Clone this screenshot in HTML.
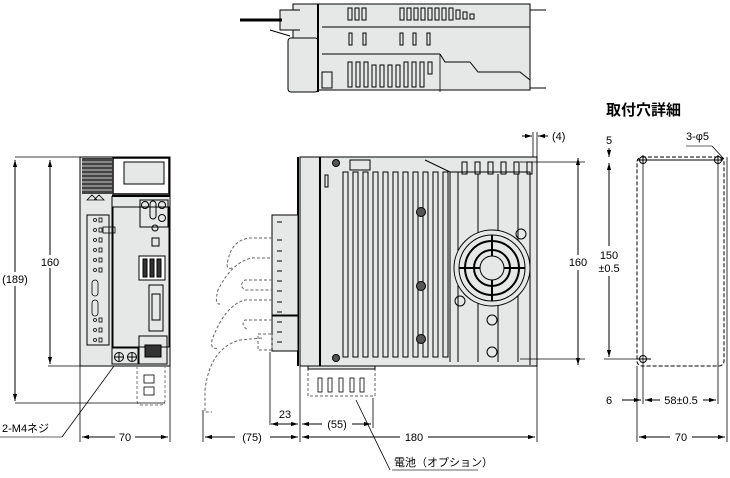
<!DOCTYPE html>
<html><head><meta charset="utf-8"><style>
html,body{margin:0;padding:0;background:#fff;}
svg{display:block;font-family:"Liberation Sans","Noto Sans CJK JP",sans-serif;}
</style></head><body>
<svg width="730" height="478" viewBox="0 0 730 478" xmlns="http://www.w3.org/2000/svg">
<defs>
<marker id="a" viewBox="0 0 10 10" refX="10" refY="5" markerWidth="7" markerHeight="7" orient="auto-start-reverse"><path d="M0,2 L10,5 L0,8 z" fill="#000"/></marker>
</defs>
<g stroke="#000" fill="none" stroke-width="1">
<!-- TOP VIEW -->
<rect x="293" y="4" width="237" height="86" fill="#e6e8e8"/>
<rect x="288" y="38" width="30" height="54" fill="#e6e8e8" rx="3"/>
<line x1="318" y1="4" x2="318" y2="92" stroke-width="2"/>
<line x1="322" y1="27" x2="530" y2="27"/>
<line x1="322" y1="54" x2="440" y2="54"/>
<path d="M440,54 L445,62 L470,62 L478,72 L520,72 L530,80" />
<path d="M300,10 L280,10 L280,30 L300,30" fill="#e6e8e8"/>
<line x1="240" y1="20" x2="282" y2="20" stroke-width="3"/>
<path d="M270,30 L290,36" />
<g stroke-width="1">
<rect x="348" y="8" width="4" height="12"/><rect x="355" y="8" width="4" height="12"/><rect x="362" y="8" width="4" height="12"/>
<rect x="400" y="8" width="4" height="12"/><rect x="407" y="8" width="4" height="12"/><rect x="414" y="8" width="4" height="12"/><rect x="421" y="8" width="4" height="12"/><rect x="428" y="8" width="4" height="12"/><rect x="435" y="8" width="4" height="12"/><rect x="442" y="8" width="4" height="12"/><rect x="449" y="8" width="4" height="12"/><rect x="456" y="10" width="4" height="9"/><rect x="463" y="12" width="4" height="7"/><rect x="470" y="14" width="4" height="5"/>
<rect x="349" y="33" width="3" height="12"/><rect x="363" y="33" width="3" height="12"/><rect x="400" y="33" width="3" height="12"/><rect x="413" y="33" width="3" height="12"/><rect x="427" y="33" width="3" height="12"/>
<rect x="348" y="62" width="4" height="25"/><rect x="356" y="62" width="4" height="25"/><rect x="364" y="62" width="4" height="25"/><rect x="372" y="65" width="4" height="22"/><rect x="380" y="65" width="4" height="22"/><rect x="388" y="65" width="4" height="22"/><rect x="396" y="65" width="4" height="22"/><rect x="404" y="62" width="4" height="25"/><rect x="412" y="62" width="4" height="25"/><rect x="420" y="62" width="4" height="25"/><rect x="428" y="62" width="4" height="12"/>
<rect x="322" y="72" width="10" height="16"/>
</g>
<path d="M440,54 L440,92" stroke-width="0.8"/>
<line x1="530" y1="10" x2="546" y2="10"/><line x1="530" y1="88" x2="546" y2="88"/>

<!-- FRONT VIEW -->
<rect x="80" y="157" width="90" height="209" fill="#e6e8e8"/>
<rect x="82" y="158" width="30" height="36" fill="#444" stroke="none"/>
<g stroke="#ccc" stroke-width="1"><line x1="82" y1="162" x2="112" y2="162"/><line x1="82" y1="166" x2="112" y2="166"/><line x1="82" y1="170" x2="112" y2="170"/><line x1="82" y1="174" x2="112" y2="174"/><line x1="82" y1="178" x2="112" y2="178"/><line x1="82" y1="182" x2="112" y2="182"/><line x1="82" y1="186" x2="112" y2="186"/><line x1="82" y1="190" x2="112" y2="190"/></g>
<rect x="113" y="158" width="56" height="36" fill="#fff" stroke-width="1.5"/>
<rect x="124" y="162" width="40" height="22" fill="#e6e8e8"/>
<line x1="112" y1="196" x2="170" y2="196" stroke-width="2"/>
<line x1="112" y1="196" x2="112" y2="348"/>
<path d="M87,200 L92,195 L97,200 Z M94,200 L99,195 L104,200Z" stroke-width="0.8"/>
<rect x="87" y="215" width="22" height="130" fill="#e6e8e8"/>
<rect x="113" y="207" width="56" height="140" fill="#e6e8e8"/>
<rect x="140" y="200" width="28" height="27"/>
<circle cx="145" cy="205" r="3.5"/><circle cx="162" cy="205" r="3.5"/><circle cx="162" cy="218" r="3.5"/><rect x="150" y="201" width="6" height="18" rx="3"/>
<circle cx="155" cy="228" r="3"/>
<rect x="152" y="238" width="7" height="8"/>
<rect x="139" y="256" width="26" height="24" fill="#fff"/><rect x="143" y="259" width="4" height="18" fill="#333"/><rect x="150" y="259" width="4" height="18" fill="#333"/><rect x="157" y="259" width="4" height="18" fill="#333"/>
<rect x="149" y="285" width="14" height="46"/><rect x="152" y="294" width="8" height="26"/>
<rect x="139" y="336" width="28" height="28"/><rect x="145" y="345" width="16" height="12" fill="#333"/>
<rect x="112" y="348" width="26" height="16"/>
<circle cx="119" cy="357" r="4.5"/><circle cx="132" cy="357" r="4.5"/>
<path d="M119,352.5v9M114.5,357h9M132,352.5v9M127.5,357h9"/>
<g stroke-width="0.8">
<circle cx="95" cy="220" r="1.5"/><circle cx="95" cy="230" r="1.5"/><circle cx="95" cy="240" r="1.5"/><circle cx="95" cy="250" r="1.5"/><circle cx="95" cy="260" r="1.5"/><circle cx="95" cy="270" r="1.5"/><circle cx="95" cy="320" r="1.5"/><circle cx="95" cy="330" r="1.5"/><circle cx="95" cy="340" r="1.5"/>
<rect x="99" y="218" width="3" height="4"/><rect x="99" y="228" width="3" height="4"/><rect x="99" y="238" width="3" height="4"/><rect x="99" y="248" width="3" height="4"/><rect x="99" y="258" width="3" height="4"/><rect x="99" y="268" width="3" height="4"/><rect x="99" y="318" width="3" height="4"/><rect x="99" y="328" width="3" height="4"/><rect x="99" y="338" width="3" height="4"/>
<rect x="92" y="280" width="6" height="16" rx="3"/><rect x="92" y="300" width="6" height="16" rx="3"/>
<rect x="103" y="227" width="12" height="6"/>
</g>
<path d="M137,366 L137,400 Q137,405 142,405 L160,405 Q165,405 165,400 L165,366" stroke-dasharray="3,2" stroke="#777"/>
<rect x="144" y="375" width="10" height="8" stroke-width="0.8"/><rect x="144" y="387" width="10" height="8" stroke-width="0.8"/>

<!-- front dims -->
<line x1="15" y1="157" x2="80" y2="157" stroke-width="0.8"/>
<line x1="48" y1="366" x2="80" y2="366" stroke-width="0.8"/>
<line x1="15" y1="403" x2="165" y2="403" stroke-width="0.8"/>
<line x1="50" y1="160" x2="50" y2="255" marker-start="url(#a)"/><line x1="50" y1="268" x2="50" y2="364" marker-end="url(#a)"/>
<line x1="15" y1="160" x2="15" y2="272" marker-start="url(#a)"/><line x1="15" y1="286" x2="15" y2="401" marker-end="url(#a)"/>
<line x1="80" y1="366" x2="80" y2="442" stroke-width="0.8"/><line x1="170" y1="366" x2="170" y2="442" stroke-width="0.8"/>
<line x1="82" y1="437" x2="115" y2="437" marker-start="url(#a)"/><line x1="135" y1="437" x2="168" y2="437" marker-end="url(#a)"/>
<line x1="0" y1="437" x2="62" y2="437" stroke="#999" stroke-width="1.5"/>
<line x1="62" y1="437" x2="114" y2="366" stroke-width="0.8"/>

<!-- SIDE VIEW -->
<rect x="300" y="157" width="237" height="209" fill="#e6e8e8"/>
<rect x="300" y="157" width="20" height="209" fill="#e6e8e8"/>
<line x1="320" y1="157" x2="320" y2="366" stroke-width="2"/>
<line x1="298" y1="157" x2="298" y2="366" stroke-width="2"/>
<rect x="350" y="160" width="20" height="10"/>
<g stroke-width="1">
<rect x="343" y="172" width="5" height="185"/><rect x="353" y="172" width="5" height="185"/><rect x="363" y="172" width="5" height="185"/><rect x="373" y="172" width="5" height="185"/><rect x="383" y="172" width="5" height="185"/><rect x="393" y="172" width="5" height="185"/><rect x="403" y="172" width="5" height="185"/><rect x="413" y="172" width="5" height="185"/><rect x="423" y="172" width="5" height="185"/><rect x="433" y="172" width="5" height="185"/><rect x="443" y="172" width="5" height="185"/>
<rect x="325" y="175" width="3" height="12"/>
</g>
<path d="M425,160 L450,172 L530,172 L530,365" />
<line x1="450" y1="172" x2="450" y2="362"/>
<line x1="458" y1="172" x2="458" y2="362"/>
<g stroke-width="1"><rect x="462" y="162" width="5" height="12"/><rect x="475" y="162" width="5" height="12"/><rect x="488" y="162" width="5" height="12"/><rect x="501" y="162" width="5" height="12"/><rect x="514" y="162" width="5" height="12"/><rect x="527" y="162" width="5" height="12"/></g>
<line x1="478" y1="174" x2="478" y2="362"/><line x1="498" y1="174" x2="498" y2="362"/><line x1="518" y1="174" x2="518" y2="362"/>
<circle cx="492" cy="268" r="38" fill="#e6e8e8"/>
<circle cx="492" cy="268" r="33"/>
<circle cx="492" cy="268" r="27" stroke-width="2"/>
<circle cx="492" cy="268" r="18" stroke-width="2"/>
<circle cx="492" cy="268" r="12" fill="#e6e8e8"/>
<path d="M492,235v21M492,280v21M459,268h21M504,268h21" stroke-width="2"/>
<circle cx="521" cy="234" r="5"/><circle cx="460" cy="301" r="5"/><circle cx="492" cy="320" r="5"/><circle cx="492" cy="352" r="5"/>
<g fill="#555"><circle cx="336" cy="163" r="3.5"/><circle cx="336" cy="358" r="3.5"/><circle cx="421" cy="212" r="4.5"/><circle cx="421" cy="286" r="4.5"/><circle cx="421" cy="339" r="4.5"/></g>
<!-- connectors -->
<rect x="272" y="215" width="26" height="100" fill="#e6e8e8"/>
<rect x="272" y="316" width="26" height="35" fill="#e6e8e8"/>
<g stroke-width="1"><path d="M277,222h5M277,240h5M277,251h5M277,261h5M277,271h5M277,281h5M277,291h5M277,302h5M277,312h5M277,322h5M277,332h5M277,342h5"/></g>
<g stroke="#666" stroke-dasharray="3,2" stroke-width="1">
<path d="M272,238 L250,238 Q232,240 228,260 Q225,270 232,268"/>
<path d="M270,258 L252,258 Q232,262 218,290 Q214,305 220,304"/>
<path d="M272,280 L245,280 Q238,285 245,290 L272,290"/>
<path d="M272,300 L245,300 Q225,305 212,340 Q210,350 218,348"/>
<path d="M272,320 L245,320 Q240,325 248,330"/>
<path d="M262,338 L240,340 Q210,348 205,390 L205,412 L212,412"/>
<rect x="258" y="334" width="14" height="16"/>
<path d="M308,368 L308,396 L375,396 L375,368"/>
</g>
<g stroke-width="0.8"><rect x="318" y="378" width="4" height="14"/><rect x="328" y="378" width="4" height="14"/><rect x="339" y="378" width="4" height="14"/><rect x="350" y="378" width="4" height="14"/><rect x="360" y="378" width="4" height="14"/></g>
<rect x="308" y="366" width="67" height="3" fill="#e6e8e8"/>
<!-- side dims -->
<line x1="533" y1="132" x2="533" y2="157" stroke-width="0.8"/><line x1="537" y1="132" x2="537" y2="157" stroke-width="0.8"/>
<line x1="522" y1="136" x2="532" y2="136" marker-end="url(#a)"/><line x1="548" y1="136" x2="538" y2="136" marker-end="url(#a)"/>
<line x1="520" y1="162" x2="585" y2="162" stroke-width="0.8"/><line x1="520" y1="359" x2="585" y2="359" stroke-width="0.8"/>
<line x1="578" y1="158" x2="578" y2="255" marker-start="url(#a)"/><line x1="578" y1="270" x2="578" y2="365" marker-end="url(#a)"/>
<line x1="270" y1="352" x2="270" y2="425" stroke-width="0.8"/>
<line x1="300" y1="366" x2="300" y2="442" stroke-width="0.8"/>
<line x1="537" y1="366" x2="537" y2="442" stroke-width="0.8"/>
<line x1="373" y1="398" x2="373" y2="428" stroke-width="0.8"/>
<line x1="203" y1="410" x2="203" y2="442" stroke-width="0.8"/>
<line x1="271" y1="424" x2="298" y2="424" marker-start="url(#a)" marker-end="url(#a)"/>
<line x1="302" y1="424" x2="322" y2="424" marker-start="url(#a)"/><line x1="352" y1="424" x2="371" y2="424" marker-end="url(#a)"/>
<line x1="205" y1="437" x2="235" y2="437" marker-start="url(#a)"/><line x1="270" y1="437" x2="298" y2="437" marker-end="url(#a)"/>
<line x1="302" y1="437" x2="400" y2="437" marker-start="url(#a)"/><line x1="428" y1="437" x2="535" y2="437" marker-end="url(#a)"/>
<line x1="390" y1="470" x2="356" y2="400" stroke-width="0.8"/>
<line x1="392" y1="470" x2="478" y2="470" stroke="#999" stroke-width="1.5"/>

<!-- MOUNT DETAIL -->
<rect x="637" y="157" width="87" height="209" rx="5" stroke-dasharray="4,2"/>
<circle cx="643" cy="160" r="3.5"/><circle cx="718" cy="160" r="3.5"/><circle cx="643" cy="359" r="3.5"/>
<path d="M637,160h86M643,155v8M718,155v8M637,359h14"/>
<line x1="643" y1="160" x2="643" y2="404" stroke-width="0.8"/>
<line x1="718" y1="160" x2="718" y2="404" stroke-width="0.8"/>
<line x1="637" y1="366" x2="637" y2="442" stroke-width="0.8"/>
<line x1="727" y1="157" x2="727" y2="442" stroke-width="0.8"/>
<line x1="604" y1="359" x2="640" y2="359" stroke-width="0.8"/>
<line x1="609" y1="148" x2="609" y2="157" marker-end="url(#a)"/>
<line x1="609" y1="163" x2="609" y2="246" marker-start="url(#a)"/><line x1="609" y1="276" x2="609" y2="357" marker-end="url(#a)"/>
<line x1="622" y1="400" x2="641" y2="400" marker-end="url(#a)"/>
<line x1="645" y1="400" x2="660" y2="400" marker-start="url(#a)"/><line x1="703" y1="400" x2="716" y2="400" marker-end="url(#a)"/>
<line x1="639" y1="437" x2="670" y2="437" marker-start="url(#a)"/><line x1="692" y1="437" x2="725" y2="437" marker-end="url(#a)"/>
<line x1="686" y1="146" x2="712" y2="146" stroke="#999" stroke-width="1.5"/>
<line x1="712" y1="146" x2="724" y2="159" stroke-width="0.8"/>
</g>
<g font-size="11" fill="#000">
<text x="50" y="266" text-anchor="middle">160</text>
<text x="15" y="283" text-anchor="middle">(189)</text>
<text x="125" y="441" text-anchor="middle">70</text>
<text x="2" y="432">2-M4ネジ</text>
<text x="285" y="418" text-anchor="middle">23</text>
<text x="337" y="428" text-anchor="middle">(55)</text>
<text x="252" y="441" text-anchor="middle">(75)</text>
<text x="414" y="441" text-anchor="middle">180</text>
<text x="394" y="466">電池（オプション）</text>
<text x="552" y="140">(4)</text>
<text x="578" y="266" text-anchor="middle">160</text>
<text x="609" y="144" text-anchor="middle">5</text>
<text x="609" y="259" text-anchor="middle">150</text>
<text x="609" y="272" text-anchor="middle">±0.5</text>
<text x="609" y="404" text-anchor="middle">6</text>
<text x="681" y="404" text-anchor="middle">58±0.5</text>
<text x="681" y="441" text-anchor="middle">70</text>
<text x="686" y="140">3-φ5</text>
<text x="606" y="115" font-size="15" font-weight="bold">取付穴詳細</text>
</g>
</svg>
</body></html>
